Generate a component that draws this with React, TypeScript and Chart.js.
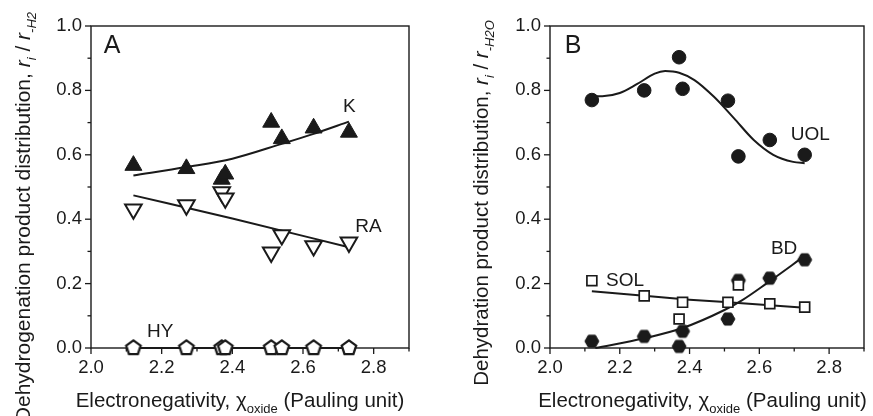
import React, { useEffect, useRef } from 'react';
import { Chart, registerables } from 'chart.js';

Chart.register(...registerables);

// ---------- data ----------
const electronegativity = [2.12, 2.27, 2.37, 2.38, 2.51, 2.54, 2.63, 2.73];

// Panel A: dehydrogenation products
const kValues = [0.567, 0.557, 0.524, 0.54, 0.701, 0.65, 0.683, 0.67];
const raValues = [0.431, 0.444, 0.484, 0.465, 0.297, 0.351, 0.317, 0.328];
const hyValues = [0, 0, 0, 0, 0, 0, 0, 0];

const kFitX = [2.12, 2.27, 2.4, 2.54, 2.63, 2.73];
const kFitY = [0.536, 0.562, 0.588, 0.634, 0.665, 0.703];
const raFitX = [2.12, 2.4, 2.73];
const raFitY = [0.474, 0.402, 0.313];
const hyFitX = [2.12, 2.73];
const hyFitY = [0, 0];

// Panel B: dehydration products
const uolValues = [0.77, 0.8, 0.903, 0.805, 0.768, 0.595, 0.646, 0.6];
const solValues = [0.209, 0.162, 0.09, 0.142, 0.142, 0.196, 0.1375, 0.127];
const bdValues = [0.021, 0.036, 0.005, 0.052, 0.09, 0.21, 0.217, 0.274];

const uolFitX = [2.12, 2.15, 2.2, 2.25, 2.3, 2.33, 2.37, 2.414, 2.47, 2.527, 2.584, 2.64, 2.697, 2.73];
const uolFitY = [0.782, 0.782, 0.792, 0.82, 0.852, 0.86, 0.855, 0.832, 0.78, 0.714, 0.646, 0.6, 0.578, 0.574];
const solFitX = [2.12, 2.27, 2.4, 2.55, 2.73];
const solFitY = [0.176, 0.162, 0.15, 0.139, 0.125];
const bdFitX = [2.13, 2.27, 2.38, 2.5, 2.55, 2.62, 2.73];
const bdFitY = [0.0, 0.03, 0.062, 0.118, 0.148, 0.2, 0.286];

const xTickLabels = ['2.0', '2.2', '2.4', '2.6', '2.8'];
const yTickLabels = ['0.0', '0.2', '0.4', '0.6', '0.8', '1.0'];

// ---------- styling ----------
const FONT = '"Liberation Sans", Arial, sans-serif';
const INK = '#1a1a1a';
const TICK_SIZE = 18.5;
const LABEL_SIZE = 19;

type Seg = { t: string; it?: boolean; sub?: boolean };

function drawRich(
  ctx: CanvasRenderingContext2D,
  segs: Seg[],
  x: number,
  y: number,
  size: number,
  subSize: number,
  align: 'start' | 'end' | 'center',
  rot: number
) {
  ctx.save();
  ctx.translate(x, y);
  ctx.rotate(rot);
  ctx.fillStyle = INK;
  ctx.textAlign = 'left';
  ctx.textBaseline = 'alphabetic';
  const fontOf = (s: Seg) => `${s.it ? 'italic ' : ''}${s.sub ? subSize : size}px ${FONT}`;
  let total = 0;
  for (const s of segs) {
    ctx.font = fontOf(s);
    total += ctx.measureText(s.t).width;
  }
  let cx = align === 'start' ? 0 : align === 'end' ? -total : -total / 2;
  for (const s of segs) {
    ctx.font = fontOf(s);
    ctx.fillText(s.t, cx, s.sub ? size * 0.28 : 0);
    cx += ctx.measureText(s.t).width;
  }
  ctx.restore();
}

function polygonImage(sides: number, r: number, startAngle: number, fill: string, stroke: string, lw: number) {
  const size = Math.ceil(2 * (r + lw)) + 2;
  const c = document.createElement('canvas');
  c.width = size;
  c.height = size;
  const g = c.getContext('2d')!;
  g.translate(size / 2, size / 2);
  g.beginPath();
  for (let i = 0; i < sides; i++) {
    const a = startAngle + (i * 2 * Math.PI) / sides;
    const px = r * Math.cos(a);
    const py = r * Math.sin(a);
    if (i === 0) g.moveTo(px, py);
    else g.lineTo(px, py);
  }
  g.closePath();
  g.fillStyle = fill;
  g.fill();
  g.lineWidth = lw;
  g.strokeStyle = stroke;
  g.lineJoin = 'miter';
  g.stroke();
  return c;
}

const isMajor = (v: number) => Math.round(v * 10) % 2 === 0;

type TextItem = { text: Seg[]; x: number; y: number; size: number; align: 'start' | 'end' | 'center' };

function makeFramePlugin(labels: { t: string; x: number; y: number; size: number; align: 'start' | 'center' }[], titles: TextItem[], yTitle: TextItem) {
  return {
    id: 'frameTicks',
    beforeDatasetsDraw(chart: any) {
      const { ctx, chartArea } = chart;
      const { left, right, top, bottom } = chartArea;
      const xs = chart.scales.x;
      const ys = chart.scales.y;
      ctx.save();
      ctx.strokeStyle = INK;
      ctx.lineWidth = 1.4;
      ctx.strokeRect(left, top, right - left, bottom - top);
      ctx.lineWidth = 1.3;
      xs.ticks.forEach((t: any) => {
        const px = xs.getPixelForValue(t.value);
        ctx.beginPath();
        ctx.moveTo(px, bottom);
        ctx.lineTo(px, bottom + (isMajor(t.value) ? 6 : 3.5));
        ctx.stroke();
      });
      ys.ticks.forEach((t: any) => {
        const py = ys.getPixelForValue(t.value);
        ctx.beginPath();
        ctx.moveTo(left, py);
        ctx.lineTo(left - (isMajor(t.value) ? 6 : 3.5), py);
        ctx.stroke();
      });
      ctx.restore();
    },
    afterDraw(chart: any) {
      const { ctx } = chart;
      const xs = chart.scales.x;
      const ys = chart.scales.y;
      ctx.save();
      ctx.fillStyle = INK;
      ctx.textBaseline = 'alphabetic';
      for (const l of labels) {
        ctx.font = `${l.size}px ${FONT}`;
        ctx.textAlign = l.align === 'start' ? 'left' : 'center';
        ctx.fillText(l.t, xs.getPixelForValue(l.x), ys.getPixelForValue(l.y));
      }
      ctx.restore();
      for (const t of titles) {
        drawRich(ctx, t.text, t.x, t.y, t.size, Math.round(t.size * 0.62), t.align, 0);
      }
      drawRich(ctx, yTitle.text, yTitle.x, yTitle.y, yTitle.size, Math.round(yTitle.size * 0.62), yTitle.align, -Math.PI / 2);
    },
  };
}

function pts(xs: number[], ys: number[]) {
  return xs.map((x, i) => ({ x, y: ys[i] }));
}

function fitLine(xs: number[], ys: number[]) {
  return {
    data: pts(xs, ys),
    borderColor: INK,
    borderWidth: 2,
    pointRadius: 0,
    showLine: true,
    cubicInterpolationMode: 'monotone' as const,
    fill: false,
    order: 5,
    clip: false as any,
  };
}

function baseOptions(yWidth: number, padRight: number) {
  return {
    animation: false as const,
    responsive: false,
    maintainAspectRatio: false,
    layout: { padding: { top: 26, right: padRight, left: 0, bottom: 0 } },
    plugins: { legend: { display: false }, tooltip: { enabled: false } },
    scales: {
      x: {
        type: 'linear' as const,
        min: 2.0,
        max: 2.9,
        grid: { display: false, drawTicks: false },
        border: { display: false },
        ticks: {
          stepSize: 0.1,
          autoSkip: false,
          maxRotation: 0,
          padding: 9,
          color: INK,
          font: { family: FONT, size: TICK_SIZE },
          callback: (v: any) => {
            const s = Number(v).toFixed(1);
            return xTickLabels.includes(s) ? s : '';
          },
        },
        afterFit: (s: any) => {
          s.height = 68;
        },
      },
      y: {
        type: 'linear' as const,
        min: 0,
        max: 1.0,
        grid: { display: false, drawTicks: false },
        border: { display: false },
        ticks: {
          stepSize: 0.1,
          autoSkip: false,
          padding: 9,
          color: INK,
          font: { family: FONT, size: TICK_SIZE },
          callback: (v: any) => {
            const s = Number(v).toFixed(1);
            return yTickLabels.includes(s) ? s : '';
          },
        },
        afterFit: (s: any) => {
          s.width = yWidth;
        },
      },
    },
  };
}

function PanelA() {
  const ref = useRef<HTMLCanvasElement>(null);
  useEffect(() => {
    const pent = polygonImage(5, 7.6, -Math.PI / 2, '#ffffff', INK, 2.3);
    const chart = new Chart(ref.current!, {
      type: 'scatter',
      data: {
        datasets: [
          {
            data: pts(electronegativity, kValues),
            pointStyle: 'triangle',
            pointRadius: 9.8,
            backgroundColor: INK,
            borderColor: INK,
            borderWidth: 1,
            order: 1,
            clip: false as any,
          },
          {
            data: pts(electronegativity, raValues),
            pointStyle: 'triangle',
            rotation: 180,
            pointRadius: 9.6,
            backgroundColor: '#ffffff',
            borderColor: INK,
            borderWidth: 2,
            order: 2,
            clip: false as any,
          } as any,
          {
            data: pts(electronegativity, hyValues),
            pointStyle: pent as any,
            pointRadius: 8,
            order: 1,
            clip: false as any,
          },
          fitLine(kFitX, kFitY),
          fitLine(raFitX, raFitY),
          fitLine(hyFitX, hyFitY),
        ] as any,
      },
      options: baseOptions(91, 27) as any,
      plugins: [
        makeFramePlugin(
          [
            { t: 'A', x: 2.036, y: 0.916, size: 25, align: 'start' },
            { t: 'K', x: 2.731, y: 0.733, size: LABEL_SIZE, align: 'center' },
            { t: 'RA', x: 2.785, y: 0.36, size: LABEL_SIZE, align: 'center' },
            { t: 'HY', x: 2.196, y: 0.034, size: LABEL_SIZE, align: 'center' },
          ],
          [
            {
              text: [
                { t: 'Electronegativity, ' },
                { t: 'χ' },
                { t: 'oxide', sub: true },
                { t: ' (Pauling unit)' },
              ],
              x: 240,
              y: 407,
              size: 20.5,
              align: 'center',
            },
          ],
          {
            text: [
              { t: 'Dehydrogenation product distribution, ' },
              { t: 'r', it: true },
              { t: 'i', it: true, sub: true },
              { t: ' / ' },
              { t: 'r', it: true },
              { t: '-H2', it: true, sub: true },
            ],
            x: 30,
            y: 12,
            size: 21,
            align: 'end',
          }
        ) as any,
      ],
    });
    return () => chart.destroy();
  }, []);
  return <canvas ref={ref} width={436} height={416} style={{ position: 'absolute', left: 0, top: 0 }} />;
}

function PanelB() {
  const ref = useRef<HTMLCanvasElement>(null);
  useEffect(() => {
    const hex = polygonImage(6, 7, 0, INK, INK, 1);
    const chart = new Chart(ref.current!, {
      type: 'scatter',
      data: {
        datasets: [
          {
            data: pts(electronegativity, uolValues),
            pointStyle: 'circle',
            pointRadius: 6.8,
            backgroundColor: INK,
            borderColor: INK,
            borderWidth: 1,
            order: 1,
            clip: false as any,
          },
          {
            data: pts(electronegativity, solValues),
            pointStyle: 'rect',
            pointRadius: 7,
            backgroundColor: '#ffffff',
            borderColor: INK,
            borderWidth: 1.7,
            order: 1,
            clip: false as any,
          },
          {
            data: pts(electronegativity, bdValues),
            pointStyle: hex as any,
            pointRadius: 7,
            order: 2,
            clip: false as any,
          },
          fitLine(uolFitX, uolFitY),
          fitLine(solFitX, solFitY),
          fitLine(bdFitX, bdFitY),
        ] as any,
      },
      options: baseOptions(114, 4) as any,
      plugins: [
        makeFramePlugin(
          [
            { t: 'B', x: 2.042, y: 0.916, size: 25, align: 'start' },
            { t: 'UOL', x: 2.746, y: 0.646, size: LABEL_SIZE, align: 'center' },
            { t: 'BD', x: 2.671, y: 0.292, size: LABEL_SIZE, align: 'center' },
            { t: 'SOL', x: 2.215, y: 0.193, size: LABEL_SIZE, align: 'center' },
          ],
          [
            {
              text: [
                { t: 'Electronegativity, ' },
                { t: 'χ' },
                { t: 'oxide', sub: true },
                { t: ' (Pauling unit)' },
              ],
              x: 266.5,
              y: 407,
              size: 20.5,
              align: 'center',
            },
          ],
          {
            text: [
              { t: 'Dehydration product distribution, ' },
              { t: 'r', it: true },
              { t: 'i', it: true, sub: true },
              { t: ' / ' },
              { t: 'r', it: true },
              { t: '-H2O', it: true, sub: true },
            ],
            x: 52,
            y: 203,
            size: 20.5,
            align: 'center',
          }
        ) as any,
      ],
    });
    return () => chart.destroy();
  }, []);
  return <canvas ref={ref} width={437} height={416} style={{ position: 'absolute', left: 436, top: 0 }} />;
}

export default function App() {
  return (
    <div style={{ position: 'absolute', left: 0, top: 0, width: 873, height: 416, background: '#ffffff' }}>
      <PanelA />
      <PanelB />
    </div>
  );
}
